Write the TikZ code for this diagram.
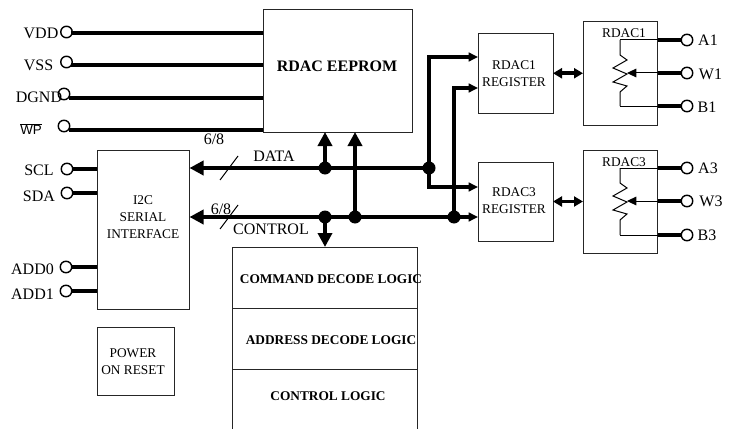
\documentclass[tikz,border=0pt]{standalone}
\usepackage{fontspec}
\setmainfont{Liberation Serif}
\setsansfont{Liberation Sans}
\usetikzlibrary{arrows.meta}
\newdimen\pxu \pxu=0.75pt
\tikzset{
  box/.style={draw=black!85,line width=1\pxu,inner sep=0pt,outer sep=0pt},
  pinc/.style={circle,draw=black,line width=1.4\pxu,minimum size=11.5\pxu,inner sep=0pt,outer sep=0pt},
  bus/.style={line width=4\pxu,draw=black},
  thin wire/.style={line width=1\pxu,draw=black},
  dotj/.style={circle,fill=black,minimum size=13\pxu,inner sep=0pt,outer sep=0pt},
  bigtip/.style={-{Triangle[length=10.5pt,width=10.5pt]}},
  smalltip/.style={-{Triangle[length=7pt,width=6.5pt]}},
  bothtip/.style={{Triangle[length=6.75pt,width=7.5pt]}-{Triangle[length=6.75pt,width=7.5pt]}},
  lab/.style={inner sep=0pt,font=\fontsize{12}{14}\selectfont},
  txt/.style={inner sep=0pt,align=center,font=\fontsize{10}{12.6}\selectfont},
  bld/.style={inner sep=0pt,font=\fontsize{10}{12}\selectfont\bfseries},
}
\begin{document}
\begin{tikzpicture}[x=\pxu,y=-\pxu]
\useasboundingbox (0,0) rectangle (731,428);
\clip (0,0) rectangle (731,428);
% boxes
\node[box,minimum width=149\pxu,minimum height=122\pxu] (eeprom) at (337.5,71) {};
\node[box,minimum width=92.5\pxu,minimum height=159\pxu] (i2c) at (143.25,229.5) {};
\node[box,minimum width=77.5\pxu,minimum height=68\pxu] (por) at (135.75,361) {};
\node[box,minimum width=185\pxu,minimum height=61.5\pxu] (cmd) at (324.5,277.75) {};
\node[box,minimum width=185\pxu,minimum height=61\pxu] (addr) at (324.5,339) {};
\node[box,minimum width=185\pxu,minimum height=70\pxu] (ctrl) at (324.5,404.5) {};
\node[box,minimum width=75\pxu,minimum height=79.5\pxu] (reg1) at (515.5,73.25) {};
\node[box,minimum width=75\pxu,minimum height=79\pxu] (reg3) at (515.5,201.5) {};
\node[box,minimum width=74.5\pxu,minimum height=103.5\pxu] (dac1) at (620.25,73.25) {};
\node[box,minimum width=74.5\pxu,minimum height=103\pxu] (dac3) at (620.25,201.5) {};
% pins
\node[pinc] (vdd) at (66.5,32) {};
\node[pinc] (vss) at (66.5,62) {};
\node[pinc] (dgnd) at (64,94) {};
\node[pinc] (wp) at (64,126) {};
\node[pinc] (scl) at (67,169) {};
\node[pinc] (sda) at (67,193) {};
\node[pinc] (add0) at (66,267) {};
\node[pinc] (add1) at (66,291) {};
\node[pinc] (a1) at (687,40) {};
\node[pinc] (w1) at (687,73) {};
\node[pinc] (b1) at (687,106) {};
\node[pinc] (a3) at (687,168) {};
\node[pinc] (w3) at (687,201) {};
\node[pinc] (b3) at (687,235) {};
% free ends of the pin wires
\coordinate (pvdd) at (71,33);
\coordinate (pvss) at (71,65);
\coordinate (pdgnd) at (69,98);
\coordinate (pwp) at (69,130);
\draw[bus] (pvdd) -- (pvdd -| eeprom.west);
\draw[bus] (pvss) -- (pvss -| eeprom.west);
\draw[bus] (pdgnd) -- (pdgnd -| eeprom.west);
\draw[bus] (pwp) -- (pwp -| eeprom.west);
\draw[bus] (scl.east) -- (scl -| i2c.west);
\draw[bus] (sda.east) -- (sda -| i2c.west);
\draw[bus] (add0.east) -- (add0 -| i2c.west);
\draw[bus] (add1.east) -- (add1 -| i2c.west);
% buses
\coordinate (jd1) at (325,168);
\coordinate (jd2) at (429,168);
\coordinate (jc1) at (325,217);
\coordinate (jc2) at (355,217);
\coordinate (jc3) at (454,217);
\draw[bus,bigtip] (jd2) -- (jd2 -| i2c.east);
\draw[bus,bigtip] (jc1) -- (jc1 -| i2c.east);
\draw[bus,smalltip] (jc1) -- (jc3) -- (jc3 -| reg3.west);
\draw[bus,bigtip] (jd1) -- (jd1 |- eeprom.south);
\draw[bus,bigtip] (jc2) -- (jc2 |- eeprom.south);
\draw[bus,bigtip] (jc1) -- (jc1 |- cmd.north);
\coordinate (r1a) at (429,57);
\coordinate (r1b) at (454,88);
\coordinate (r3a) at (429,187);
\draw[bus,smalltip,line join=miter] (jd2) -- (r1a) -- (r1a -| reg1.west);
\draw[bus,smalltip,line join=miter] (jd2) -- (r3a) -- (r3a -| reg3.west);
\draw[bus,smalltip,line join=miter] (jc3) -- (r1b) -- (r1b -| reg1.west);
\foreach \j in {jd1,jd2,jc1,jc2,jc3} \node[dotj] at (\j) {};
% bus slashes
\coordinate (sa) at (220,180); \coordinate (sb) at (238,156);
\coordinate (sc) at (220,229); \coordinate (sd) at (238,205);
\draw[thin wire] (sa) -- (sb);
\draw[thin wire] (sc) -- (sd);
% register to dac
\draw[bus,bothtip,line width=3.5\pxu] (reg1.east) -- (reg1.east -| dac1.west);
\draw[bus,bothtip,line width=3.5\pxu] (reg3.east) -- (reg3.east -| dac3.west);
% potentiometers
\coordinate (t1) at (620,40); \coordinate (u1) at (620,106);
\coordinate (t3) at (620,168); \coordinate (u3) at (620,235);
\draw[thin wire,line join=miter] (t1) -- (620,55) -- (627,60) -- (613,68) -- (627,74) -- (613,82) -- (627,86) -- (620,92) -- (u1);
\draw[thin wire,line join=miter] (t3) -- (620,183) -- (627,188) -- (613,196) -- (627,202) -- (613,210) -- (627,214) -- (620,220) -- (u3);
\draw[thin wire] (t1) -- (a1 -| dac1.east);
\draw[thin wire] (u1) -- (b1 -| dac1.east);
\draw[thin wire] (t3) -- (a3 -| dac3.east);
\draw[thin wire] (u3) -- (b3 -| dac3.east);
\coordinate (wt1) at (627,73); \coordinate (wt3) at (627,201);
\draw[thin wire,smalltip] (w1 -| dac1.east) -- (wt1);
\draw[thin wire,smalltip] (w3 -| dac3.east) -- (wt3);
\draw[bus] (a1.west) -- (a1 -| dac1.east);
\draw[bus] (w1.west) -- (w1 -| dac1.east);
\draw[bus] (b1.west) -- (b1 -| dac1.east);
\draw[bus] (a3.west) -- (a3 -| dac3.east);
\draw[bus] (w3.west) -- (w3 -| dac3.east);
\draw[bus] (b3.west) -- (b3 -| dac3.east);
% text
\node[lab] (tvdd) at (41,33) {VDD};
\node[lab] (tvss) at (38.5,65) {VSS};
\node[lab] (tdgnd) at (39,97) {DGND};
\node[inner sep=0pt,font=\fontsize{10}{12}\selectfont\sffamily] (twp) at (31,129) {$\overline{\mbox{WP}}$};
\node[lab] (tscl) at (39,170) {SCL};
\node[lab] (tsda) at (39,196) {SDA};
\node[lab] (tadd0) at (32.5,269) {ADD0};
\node[lab] (tadd1) at (32.5,294) {ADD1};
\node[lab] (ta1) at (708,40) {A1};
\node[lab] (tw1) at (710.5,74) {W1};
\node[lab] (tb1) at (707,107) {B1};
\node[lab] (ta3) at (708,168) {A3};
\node[lab] (tw3) at (711,201) {W3};
\node[lab] (tb3) at (707,235) {B3};
\node[lab] (w68a) at (214,139) {6/8};
\node[lab] (w68b) at (221,209) {6/8};
\node[lab] (tdata) at (274,156) {DATA};
\node[lab] (tcontrol) at (271,229) {CONTROL};
\node[inner sep=0pt,font=\fontsize{12}{14}\selectfont\bfseries] (teeprom) at (337,66) {RDAC EEPROM};
\node[bld] (tcmd) at (331,279) {COMMAND DECODE LOGIC};
\node[bld] (taddr) at (331,340) {ADDRESS DECODE LOGIC};
\node[bld] (tctrl) at (328,396) {CONTROL LOGIC};
\node[txt] (ti2c) at (143,217) {I2C\\SERIAL\\INTERFACE};
\node[txt] (tpor) at (133,362) {POWER\\ON RESET};
\node[txt] (treg1) at (514,74) {RDAC1\\REGISTER};
\node[txt] (treg3) at (514,200.5) {RDAC3\\REGISTER};
\node[txt] (tdac1) at (624,33) {RDAC1};
\node[txt] (tdac3) at (624,162) {RDAC3};
\end{tikzpicture}
\end{document}
